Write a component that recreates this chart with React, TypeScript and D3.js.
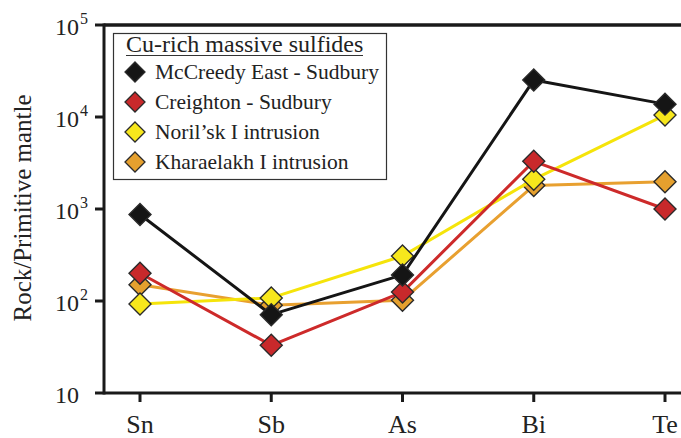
import React from "react";
import * as d3 from "d3";

const elements = ["Sn", "Sb", "As", "Bi", "Te"];
const seriesNames = [
  "McCreedy East - Sudbury",
  "Creighton - Sudbury",
  "Noril\u2019sk I intrusion",
  "Kharaelakh I intrusion",
];
const mcCreedy = [870, 71, 192, 25200, 13800];
const creighton = [200, 33, 125, 3300, 1000];
const norilsk = [93, 108, 308, 2100, 10500];
const kharaelakh = [150, 90, 102, 1800, 1980];
const yTickExponents = [1, 2, 3, 4, 5];
const legendTitle = "Cu-rich massive sulfides";
const yTitle = "Rock/Primitive mantle";

const fills = ["#151515", "#c8292b", "#f7e71c", "#e5a02e"];
const strokes = ["#151515", "#cd2a2a", "#f5e40a", "#e8a030"];
const seriesValues = [mcCreedy, creighton, norilsk, kharaelakh];
// draw order: orange underneath, black on top
const drawOrder = [3, 2, 1, 0];

const W = 681;
const H = 438;
const serif = { fontFamily: "Liberation Serif" };

export default function App() {
  const left = 104;
  const top = 25;
  const bottom = 393;
  const x = d3.scalePoint<string>().domain(elements).range([140, 665]);
  const y = d3.scaleLog().domain([10, 1e5]).range([bottom, top]);

  const line = d3
    .line<number>()
    .x((_, i) => x(elements[i]) as number)
    .y((v) => y(v));

  const diamond = (cx: number, cy: number, r: number) =>
    `M${cx},${cy - r}L${cx + r},${cy}L${cx},${cy + r}L${cx - r},${cy}Z`;

  const legendRows = [72, 102, 132, 162];

  return (
    <div style={{ position: "absolute", left: 0, top: 0 }}>
      <svg width={W} height={H} style={{ display: "block", background: "#fff" }}>
        {/* frame: left axis, bottom axis, top border */}
        <line x1={left} x2={W} y1={top} y2={top} stroke="#1a1a1a" strokeWidth={3.5} />
        <line x1={left} x2={W} y1={bottom} y2={bottom} stroke="#1a1a1a" strokeWidth={3} />
        <line x1={left} x2={left} y1={top - 1.5} y2={bottom + 1.5} stroke="#1a1a1a" strokeWidth={3} />

        {/* y ticks */}
        {yTickExponents.map((e) => {
          const v = Math.pow(10, e);
          const ty = y(v);
          return (
            <g key={e}>
              <line x1={left - 9} x2={left} y1={ty} y2={ty} stroke="#1a1a1a" strokeWidth={3} />
              <text x={55} y={ty + 9.5} fontSize={24} fill="#222" style={serif}>
                10
                {e > 1 && (
                  <tspan fontSize={16} dy={-11} dx={1} style={serif}>
                    {e}
                  </tspan>
                )}
              </text>
            </g>
          );
        })}

        {/* x ticks */}
        {elements.map((el) => {
          const tx = x(el) as number;
          return (
            <g key={el}>
              <line x1={tx} x2={tx} y1={bottom} y2={bottom + 9} stroke="#1a1a1a" strokeWidth={3} />
              <text x={tx} y={433} textAnchor="middle" fontSize={26} fill="#222" style={serif}>
                {el}
              </text>
            </g>
          );
        })}

        {/* y title */}
        <text
          transform={`translate(31,208) rotate(-90)`}
          textAnchor="middle"
          fontSize={25}
          fill="#222"
          style={serif}
        >
          {yTitle}
        </text>

        {/* series */}
        {drawOrder.map((si) => (
          <g key={si}>
            <path d={line(seriesValues[si]) || ""} fill="none" stroke={strokes[si]} strokeWidth={3} strokeLinejoin="round" />
            {seriesValues[si].map((v, i) => (
              <path
                key={i}
                d={diamond(x(elements[i]) as number, y(v), 11)}
                fill={fills[si]}
                stroke="#2a2a2a"
                strokeWidth={1.4}
              />
            ))}
          </g>
        ))}

        {/* legend */}
        <rect x={113.5} y={33.5} width={273} height={146} fill="#fff" stroke="#333" strokeWidth={1.2} />
        <text x={126} y={52} fontSize={24} fill="#222" style={serif}>
          {legendTitle}
        </text>
        <line x1={126} x2={363} y1={55.5} y2={55.5} stroke="#333" strokeWidth={1.2} />
        {seriesNames.map((name, i) => (
          <g key={name}>
            <path d={diamond(135, legendRows[i], 10)} fill={fills[i]} stroke="#2a2a2a" strokeWidth={1.3} />
            <text x={155} y={legendRows[i] + 6.5} fontSize={21.5} fill="#222" style={serif}>
              {name}
            </text>
          </g>
        ))}
      </svg>
    </div>
  );
}
